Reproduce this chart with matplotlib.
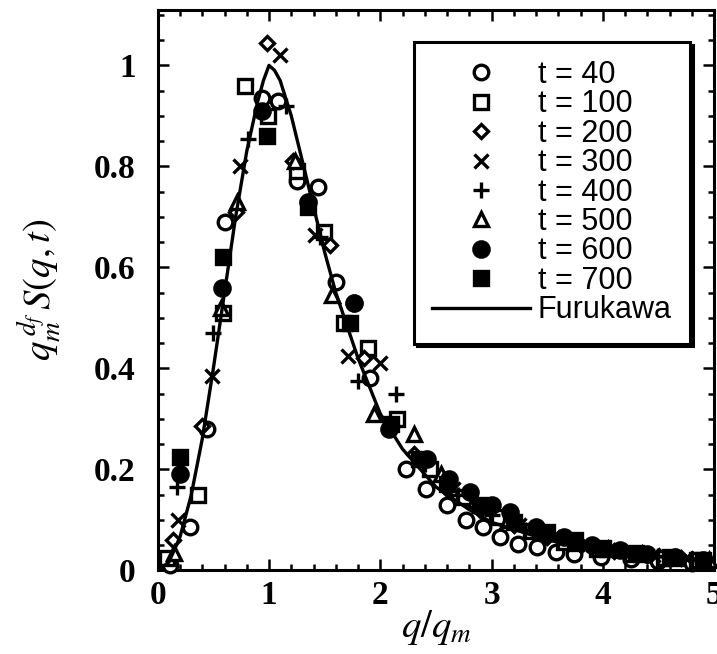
import matplotlib
matplotlib.use("Agg")
import matplotlib.pyplot as plt
from matplotlib.ticker import MultipleLocator, FixedLocator, FixedFormatter

plt.rcParams['mathtext.fontset'] = 'stix'

# t = 40 .. 700
x40 = [0.11, 0.29, 0.44, 0.60, 0.94, 1.08, 1.25, 1.44, 1.60, 1.76, 1.91, 2.23, 2.41, 2.60,
       2.77, 2.92, 3.08, 3.24, 3.41, 3.58, 3.74, 3.98, 4.25, 4.50, 4.80]
y40 = [0.01, 0.086, 0.28, 0.69, 0.935, 0.93, 0.77, 0.76, 0.57, 0.53, 0.38, 0.20, 0.16, 0.13,
       0.10, 0.085, 0.065, 0.052, 0.046, 0.036, 0.032, 0.026, 0.022, 0.018, 0.014]

x100 = [0.08, 0.36, 0.59, 0.78, 0.99, 1.25, 1.49, 1.67, 1.89, 2.15, 2.45, 2.75, 3.05, 3.35,
        3.65, 3.95, 4.25, 4.55, 4.85]
y100 = [0.024, 0.15, 0.51, 0.96, 0.90, 0.79, 0.67, 0.49, 0.44, 0.30, 0.20, 0.145, 0.105, 0.078,
        0.057, 0.042, 0.032, 0.025, 0.02]

x200 = [0.14, 0.40, 0.70, 0.98, 1.22, 1.55, 1.85, 2.30, 2.60, 2.90, 3.20, 3.50, 3.80, 4.10, 4.40, 4.70]
y200 = [0.06, 0.285, 0.71, 1.045, 0.81, 0.645, 0.42, 0.23, 0.16, 0.12, 0.09, 0.065, 0.05, 0.038, 0.03, 0.024]

x300 = [0.18, 0.49, 0.74, 1.10, 1.41, 1.71, 2.00, 2.35, 2.65, 2.95, 3.25, 3.55, 3.85, 4.15, 4.45, 4.75]
y300 = [0.10, 0.385, 0.80, 1.02, 0.665, 0.425, 0.41, 0.22, 0.16, 0.12, 0.09, 0.066, 0.05, 0.038, 0.03, 0.024]

x400 = [0.17, 0.50, 0.81, 1.15, 1.46, 1.80, 2.14, 2.40, 2.70, 3.00, 3.30, 3.60, 3.90, 4.20, 4.50, 4.80]
y400 = [0.165, 0.47, 0.855, 0.92, 0.66, 0.375, 0.35, 0.21, 0.15, 0.11, 0.08, 0.06, 0.045, 0.035, 0.028, 0.022]

x500 = [0.15, 0.57, 0.71, 1.23, 1.57, 1.94, 2.30, 2.55, 2.85, 3.15, 3.45, 3.75, 4.05, 4.35, 4.65, 4.95]
y500 = [0.035, 0.52, 0.73, 0.81, 0.545, 0.31, 0.27, 0.19, 0.14, 0.10, 0.075, 0.055, 0.042, 0.032, 0.025, 0.02]

x600 = [0.20, 0.58, 0.94, 1.35, 1.76, 2.08, 2.42, 2.62, 2.81, 3.00, 3.17, 3.40, 3.65, 3.90, 4.15, 4.40, 4.65, 4.90]
y600 = [0.19, 0.56, 0.91, 0.73, 0.53, 0.28, 0.22, 0.18, 0.155, 0.13, 0.115, 0.085, 0.065, 0.05, 0.04, 0.032, 0.026, 0.02]

x700 = [0.20, 0.59, 0.98, 1.35, 1.73, 2.10, 2.35, 2.60, 2.90, 3.20, 3.50, 3.75, 4.00, 4.30, 4.60, 4.90]
y700 = [0.225, 0.62, 0.86, 0.72, 0.49, 0.29, 0.22, 0.17, 0.13, 0.095, 0.075, 0.06, 0.045, 0.035, 0.027, 0.02]

# Furukawa scaling curve
xf = [0.0, 0.1, 0.2, 0.3, 0.4, 0.5, 0.6, 0.7, 0.8, 0.9, 0.95, 1.0, 1.05, 1.1, 1.2, 1.3, 1.4, 1.5,
      1.6, 1.8, 2.0, 2.2, 2.5, 2.8, 3.0, 3.5, 4.0, 4.5, 5.0]
yf = [0.0, 0.016, 0.066, 0.148, 0.26, 0.40, 0.55, 0.70, 0.83, 0.93, 0.97, 1.0, 0.99, 0.97, 0.90,
      0.81, 0.72, 0.63, 0.55, 0.42, 0.31, 0.24, 0.165, 0.12, 0.095, 0.06, 0.039, 0.027, 0.02]

labels = ['t = 40', 't = 100', 't = 200', 't = 300', 't = 400', 't = 500', 't = 600', 't = 700']
ytick_vals = [0, 0.2, 0.4, 0.6, 0.8, 1.0]
ytick_labels = ['0', '0.2', '0.4', '0.6', '0.8', '1']
xtick_vals = [0, 1, 2, 3, 4, 5]

fig = plt.figure(figsize=(7.17, 6.54), dpi=100)
ax = fig.add_axes([0.220, 0.128, 0.776, 0.857])

mew = 2.4
sets = [
    (x40, y40, dict(marker='o', ms=10.5, mfc='white', mec='black')),
    (x100, y100, dict(marker='s', ms=10, mfc='white', mec='black')),
    (x200, y200, dict(marker='D', ms=7.5, mfc='white', mec='black')),
    (x300, y300, dict(marker='x', ms=10, mec='black')),
    (x400, y400, dict(marker='+', ms=11, mec='black')),
    (x500, y500, dict(marker='^', ms=10, mfc='white', mec='black')),
    (x600, y600, dict(marker='o', ms=11, mfc='black', mec='black')),
    (x700, y700, dict(marker='s', ms=10, mfc='black', mec='black')),
]
for (xs, ys, st), lab in zip(sets, labels):
    ax.plot(xs, ys, ls='none', mew=mew, label=lab, clip_on=False, zorder=3, **st)

ax.plot(xf, yf, color='black', lw=2.4, label='Furukawa', zorder=4)

ax.set_xlim(0, 5.0)
ax.set_ylim(0, 1.11)
ax.xaxis.set_major_locator(FixedLocator(xtick_vals))
ax.xaxis.set_minor_locator(MultipleLocator(0.2))
ax.yaxis.set_major_locator(FixedLocator(ytick_vals))
ax.yaxis.set_major_formatter(FixedFormatter(ytick_labels))
ax.yaxis.set_minor_locator(MultipleLocator(0.05))
ax.tick_params(which='both', direction='in', top=True, right=True, width=1.8)
ax.tick_params(which='major', length=8)
ax.tick_params(which='minor', length=4.5)
ax.tick_params(axis='y', which='major', pad=16)
ax.tick_params(axis='x', which='major', pad=7)
for lab in ax.get_xticklabels() + ax.get_yticklabels():
    lab.set_family('Liberation Serif')
    lab.set_fontweight('bold')
    lab.set_fontsize(24)
for sp in ax.spines.values():
    sp.set_linewidth(2.2)

ax.set_xlabel(r'$q/q_m$', fontsize=28, labelpad=-2)
ax.set_ylabel(r'$q_m^{\,d_f}\,S(q,t)$', fontsize=28, labelpad=22)

leg = ax.legend(loc='upper right', bbox_to_anchor=(0.957, 0.943), borderaxespad=0,
                prop={'family': 'Liberation Sans', 'size': 22}, frameon=True, fancybox=False,
                shadow={'color': 'black', 'alpha': 1}, edgecolor='black', framealpha=1,
                labelspacing=-0.02, handlelength=3.2, handletextpad=0.25, borderpad=0.6)
leg.get_frame().set_linewidth(2.2)

fig.savefig('out.png', dpi=100)
